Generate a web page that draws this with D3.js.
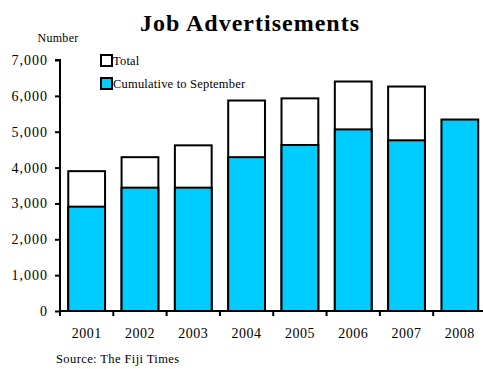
<!DOCTYPE html>
<html>
<head>
<meta charset="utf-8">
<script src="https://cdn.jsdelivr.net/npm/d3@7"></script>
<style>
  html, body { margin: 0; padding: 0; background: #fff; }
  svg { display: block; font-family: "Liberation Serif", "Times New Roman", serif; }
</style>
</head>
<body>
<svg id="chart" width="483" height="369"></svg>
<script>
// Job advertisements by year (number)
const years = ["2001", "2002", "2003", "2004", "2005", "2006", "2007", "2008"];
const totalValues = [3900, 4290, 4620, 5870, 5930, 6400, 6260, null];
const cumulativeToSeptember = [2910, 3440, 3440, 4290, 4630, 5065, 4760, 5340];
const yTicks = [0, 1000, 2000, 3000, 4000, 5000, 6000, 7000];
const legendLabels = ["Total", "Cumulative to September"];

const svg = d3.select("#chart");
const cyan = "#00CCFF";

const x = d3.scaleBand().domain(years).range([60, 486.5]).paddingInner(0.31).paddingOuter(0.155);
const y = d3.scaleLinear().domain([0, 7000]).range([311, 60]);

// Title
svg.append("text")
  .attr("x", 250).attr("y", 31)
  .attr("text-anchor", "middle")
  .attr("font-size", 24).attr("font-weight", "bold")
  .attr("letter-spacing", 1)
  .text("Job Advertisements");

svg.append("text")
  .attr("x", 58).attr("y", 42)
  .attr("text-anchor", "middle")
  .attr("font-size", 12).attr("letter-spacing", 0.3)
  .text("Number");

// Bars: total behind, cumulative in front
const bars = svg.append("g");
years.forEach((yr, i) => {
  if (totalValues[i] != null) {
    bars.append("rect")
      .attr("x", x(yr)).attr("width", x.bandwidth())
      .attr("y", y(totalValues[i])).attr("height", y(0) - y(totalValues[i]))
      .attr("fill", "#fff").attr("stroke", "#000").attr("stroke-width", 2);
  }
  bars.append("rect")
    .attr("x", x(yr)).attr("width", x.bandwidth())
    .attr("y", y(cumulativeToSeptember[i])).attr("height", y(0) - y(cumulativeToSeptember[i]))
    .attr("fill", cyan).attr("stroke", "#000").attr("stroke-width", 2);
});

// Y axis
const yAxis = svg.append("g")
  .attr("transform", "translate(60,0)")
  .call(d3.axisLeft(y).tickValues(yTicks).tickFormat(d3.format(",")).tickSize(5).tickPadding(7));
yAxis.select(".domain").attr("stroke-width", 2).attr("d", `M-5,${y(7000)}H0V${y(0)}`);
yAxis.selectAll(".tick line").attr("stroke-width", 2);
yAxis.selectAll("text").attr("font-size", 14).attr("letter-spacing", 1)
  .attr("font-family", "Liberation Serif, serif").attr("fill", "#000");

// X axis with ticks between categories
const xAxisG = svg.append("g").attr("transform", `translate(0,${y(0)})`);
xAxisG.append("line").attr("x1", 60).attr("x2", 486).attr("y1", 0).attr("y2", 0)
  .attr("stroke", "#000").attr("stroke-width", 2);
const step = x.step();
years.forEach((yr, i) => {
  const bx = 60 + step * i;
  xAxisG.append("line").attr("x1", bx).attr("x2", bx).attr("y1", 0).attr("y2", 5)
    .attr("stroke", "#000").attr("stroke-width", 2);
  xAxisG.append("text")
    .attr("x", x(yr) + x.bandwidth() / 2).attr("y", 27)
    .attr("text-anchor", "middle").attr("font-size", 14).attr("letter-spacing", 0.5)
    .text(yr);
});

// Legend
const legend = svg.append("g");
legendLabels.forEach((lab, i) => {
  const ly = 55 + i * 23;
  legend.append("rect").attr("x", 101).attr("y", ly).attr("width", 11).attr("height", 11)
    .attr("fill", i === 0 ? "#fff" : cyan).attr("stroke", "#000").attr("stroke-width", 2);
  legend.append("text").attr("x", 113).attr("y", ly + 10)
    .attr("font-size", 12.5).attr("letter-spacing", 0.2)
    .text(lab);
});

// Source note
svg.append("text")
  .attr("x", 56).attr("y", 363)
  .attr("font-size", 12.5).attr("letter-spacing", 0.4)
  .text("Source:  The Fiji Times");
</script>
</body>
</html>
